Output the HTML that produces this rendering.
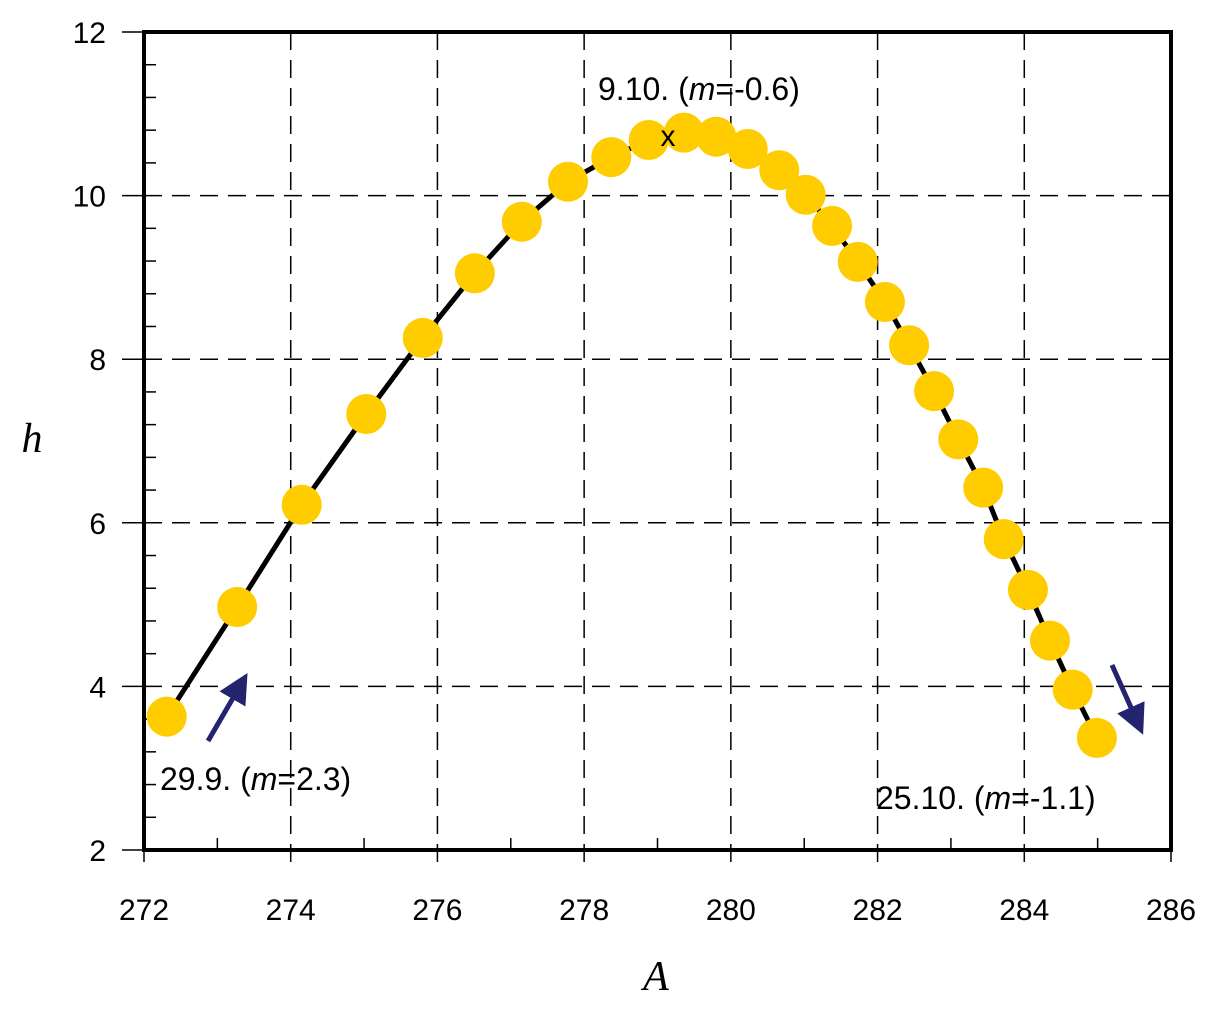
<!DOCTYPE html>
<html><head><meta charset="utf-8"><style>
body{margin:0;background:#fff}
svg text{font-family:"Liberation Sans",Arial,sans-serif;fill:#000}
</style></head><body>
<svg width="1219" height="1017" viewBox="0 0 1219 1017">
<defs><marker id="ah" markerWidth="6" markerHeight="6" refX="3" refY="3" orient="auto" markerUnits="strokeWidth"><path d="M0,0 L6,3 L0,6 Z" fill="#23236e"/></marker></defs>
<g id="grid"></g>
<g id="ticks"></g>
<polyline id="curve" fill="none" stroke="#000" stroke-width="5"/>
<g id="pts"></g>
<rect x="144" y="32" width="1027" height="818" fill="none" stroke="#000" stroke-width="4"/>
<text x="668" y="146" font-size="30" text-anchor="middle">x</text>
<line x1="208" y1="741" x2="240" y2="686" stroke="#23236e" stroke-width="5" marker-end="url(#ah)"/>
<line x1="1112" y1="665" x2="1137" y2="721" stroke="#23236e" stroke-width="5" marker-end="url(#ah)"/>
<text x="598" y="100" font-size="32">9.10. (<tspan font-style="italic">m</tspan>=-0.6)</text>
<text x="160" y="790" font-size="32">29.9. (<tspan font-style="italic">m</tspan>=2.3)</text>
<text x="876" y="809" font-size="32">25.10. (<tspan font-style="italic">m</tspan>=-1.1)</text>
<text x="32" y="452" font-size="42" font-style="italic" text-anchor="middle" style="font-family:'Liberation Serif',serif">h</text>
<text x="656" y="990" font-size="42" font-style="italic" text-anchor="middle" style="font-family:'Liberation Serif',serif">A</text>
</svg>
<script>
const xData=[272.31,273.27,274.15,275.03,275.80,276.51,277.15,277.78,278.37,278.88,279.36,279.80,280.23,280.66,281.02,281.38,281.73,282.10,282.43,282.77,283.10,283.44,283.72,284.05,284.35,284.66,284.99];
const yData=[3.63,4.97,6.22,7.33,8.26,9.05,9.68,10.17,10.47,10.68,10.77,10.72,10.57,10.31,10.01,9.63,9.19,8.70,8.17,7.61,7.02,6.43,5.80,5.18,4.56,3.96,3.37];
const xTicks=[272,274,276,278,280,282,284,286];
const yTicks=[2,4,6,8,10,12];
const X=v=>144+(v-272)*1027/14, Y=v=>850-(v-2)*818/10;
const NS="http://www.w3.org/2000/svg";
function mk(t,a,p){const e=document.createElementNS(NS,t);for(const k in a)e.setAttribute(k,a[k]);p.appendChild(e);return e;}
const g=document.getElementById('grid'),tk=document.getElementById('ticks');
xTicks.forEach(v=>{
 if(v>272&&v<286){const l=mk('line',{x1:X(v),x2:X(v),y1:32,y2:850,stroke:'#000','stroke-width':1.5,'stroke-dasharray':'18,10'},g);
 
 }
 const t=mk('line',{x1:X(v),x2:X(v),y1:850,y2:862,stroke:'#000','stroke-width':1.5},tk);
 
 
 const tx=mk('text',{x:X(v),y:920,'font-size':30,'text-anchor':'middle'},tk);tx.textContent=v;
 
 
 if(v<286){const m=mk('line',{x1:X(v+1),x2:X(v+1),y1:850,y2:838,stroke:'#000','stroke-width':1.5},tk);
 
 }
});
yTicks.forEach(v=>{
 if(v>2&&v<12){const l=mk('line',{x1:144,x2:1171,y1:Y(v),y2:Y(v),stroke:'#000','stroke-width':1.5,'stroke-dasharray':'18,10'},g);
 
 }
 const t=mk('line',{x1:122,x2:144,y1:Y(v),y2:Y(v),stroke:'#000','stroke-width':1.5},tk);
 
 
 const tx=mk('text',{x:106,y:Y(v)+11,'font-size':30,'text-anchor':'end'},tk);tx.textContent=v;
 
 
 if(v<12)for(let i=1;i<5;i++){const m=mk('line',{x1:144,x2:156,y1:Y(v+0.4*i),y2:Y(v+0.4*i),stroke:'#000','stroke-width':1.5},tk);
 
 }
});
document.getElementById('curve').setAttribute('points',xData.map((v,i)=>X(v)+','+Y(yData[i])).join(' '));
const pg=document.getElementById('pts');
xData.forEach((v,i)=>{const c=mk('circle',{cx:X(v),cy:Y(yData[i]),r:20,fill:'#FFCC00'},pg);
 
 });
</script>
</body></html>
